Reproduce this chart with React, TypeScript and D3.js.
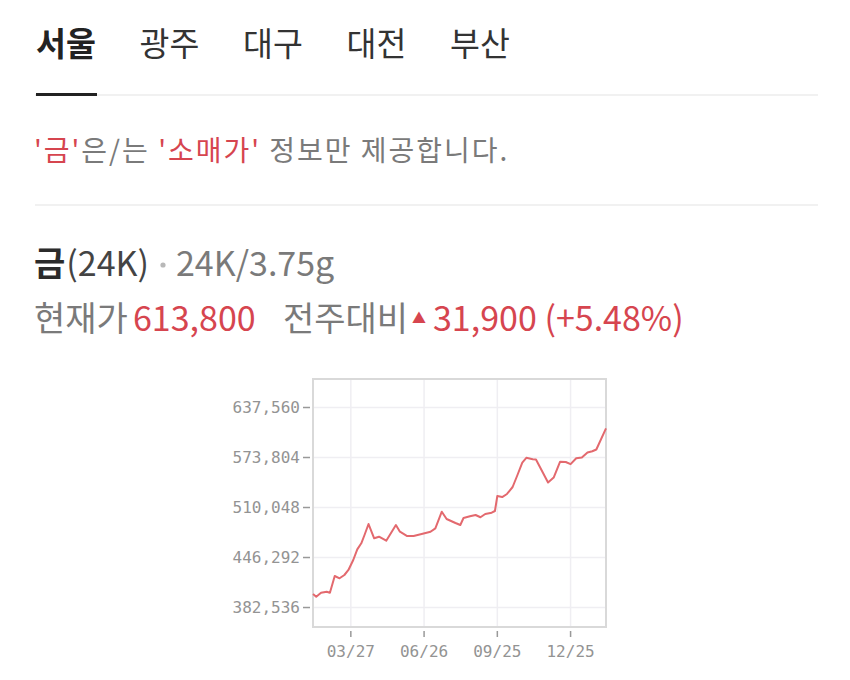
import React from "react";
import * as d3 from "d3";

const tabs = ["서울", "광주", "대구", "대전", "부산"];

const dates = [
  "2024-02-09", "2024-02-13", "2024-02-19", "2024-02-26", "2024-03-01", "2024-03-07",
  "2024-03-13", "2024-03-19", "2024-03-24", "2024-03-30", "2024-04-04", "2024-04-09",
  "2024-04-13", "2024-04-18", "2024-04-25", "2024-05-01", "2024-05-10", "2024-05-22",
  "2024-05-27", "2024-06-05", "2024-06-13", "2024-06-23", "2024-07-04", "2024-07-10",
  "2024-07-18", "2024-07-24", "2024-08-04", "2024-08-10", "2024-08-14", "2024-08-22",
  "2024-08-29", "2024-09-04", "2024-09-10", "2024-09-18", "2024-09-22", "2024-09-25",
  "2024-10-01", "2024-10-07", "2024-10-14", "2024-10-20", "2024-10-26", "2024-10-31",
  "2024-11-08", "2024-11-12", "2024-11-20", "2024-11-27", "2024-12-04", "2024-12-12",
  "2024-12-19", "2024-12-25", "2025-01-01", "2025-01-08", "2025-01-15", "2025-01-21",
  "2025-01-26", "2025-02-07",
];

const prices = [
  399750, 396300, 401400, 402700, 401400, 422700,
  419800, 424000, 430400, 443100, 456700, 464400,
  475000, 489000, 470800, 472800, 467700, 487700,
  479200, 473700, 473700, 476300, 479200, 483500,
  504700, 495400, 490300, 487700, 496700, 498800,
  500500, 497600, 501800, 503400, 505600, 524700,
  523400, 527300, 536200, 551500, 567400, 573400,
  571500, 571300, 555700, 541900, 548300, 568400,
  568100, 565300, 572800, 573800, 580200, 581800,
  584000, 611000,
];

const yTickValues = [382536, 446292, 510048, 573804, 637560];
const xTickDates = ["2024-03-27", "2024-06-26", "2024-09-25", "2024-12-25"];
const yDomain = [357700, 673900];

const RED = "#d6454f";
const GRAY = "#7a7a7a";
const DARK = "#2b2b2b";
const KR = "'Noto Sans CJK KR', 'Noto Sans', sans-serif";
const MONO = "'DejaVu Sans Mono', 'Liberation Mono', monospace";

export default function App() {
  const parse = d3.timeParse("%Y-%m-%d");
  const data = dates.map((d, i) => ({ date: parse(d) as Date, value: prices[i] }));
  const plot = { left: 313, right: 606, top: 379, bottom: 627 };

  const x = d3
    .scaleTime()
    .domain(d3.extent(data, (d) => d.date) as [Date, Date])
    .range([plot.left, plot.right]);
  const y = d3.scaleLinear().domain(yDomain).range([plot.bottom, plot.top]);

  const line = d3
    .line<{ date: Date; value: number }>()
    .x((d) => x(d.date))
    .y((d) => y(d.value));

  const fmtY = d3.format(",");
  const fmtX = d3.timeFormat("%m/%d");
  const xTicks = xTickDates.map((d) => parse(d) as Date);

  return (
    <svg
      width={850}
      height={680}
      style={{ position: "absolute", left: 0, top: 0, background: "#fff" }}
      fontFamily={KR}
    >
      <rect width={850} height={680} fill="#fff" />
      {/* tabs */}
      {tabs.map((t, i) => (
        <text
          key={t}
          x={36 + i * 103.5}
          y={56}
          fontSize={32.5}
          fontWeight={i === 0 ? 700 : 400}
          fill={i === 0 ? "#222" : "#333"}
        >
          {t}
        </text>
      ))}
      <line x1={35} x2={818} y1={95} y2={95} stroke="#ececec" strokeWidth={1.5} />
      <rect x={36} y={93} width={61} height={3} fill="#222" />

      {/* notice */}
      <text x={34} y={161} fontSize={28} fill={GRAY} letterSpacing={2}>
        <tspan fill={RED}>'금'</tspan>
        <tspan>은/는 </tspan>
        <tspan fill={RED}>'소매가'</tspan>
        <tspan> 정보만 제공합니다.</tspan>
      </text>
      <line x1={35} x2={818} y1={205} y2={205} stroke="#ececec" strokeWidth={1.5} />

      {/* title */}
      <text y={276} fontSize={34} fill={DARK}>
        <tspan x={34} fontWeight={700}>금</tspan>
        <tspan fill="#444" dx={1}>(24K)</tspan>
        <tspan x={176} fill={GRAY}>24K/3.75g</tspan>
      </text>
      <circle cx={163} cy={265} r={2.6} fill="#b8b8b8" />

      <text y={331} fontSize={34} fill={GRAY}>
        <tspan x={34}>현재가</tspan>
        <tspan x={133} fill={RED}>613,800</tspan>
        <tspan x={283}>전주대비</tspan>
        <tspan x={412} fill={RED} fontSize={14} dy={-8}>▲</tspan>
        <tspan x={433} fill={RED} dy={8}>31,900 (+5.48%)</tspan>
      </text>

      {/* chart grid */}
      {yTickValues.map((v) => (
        <line
          key={"gy" + v}
          x1={plot.left}
          x2={plot.right}
          y1={y(v)}
          y2={y(v)}
          stroke="#efeef2"
          strokeWidth={1.5}
        />
      ))}
      {xTicks.map((d, i) => (
        <line
          key={"gx" + i}
          x1={x(d)}
          x2={x(d)}
          y1={plot.top}
          y2={plot.bottom}
          stroke="#efeef2"
          strokeWidth={1.5}
        />
      ))}
      <rect
        x={plot.left}
        y={plot.top}
        width={plot.right - plot.left}
        height={plot.bottom - plot.top}
        fill="none"
        stroke="#d9d9d9"
        strokeWidth={2}
      />

      {/* y axis */}
      {yTickValues.map((v) => (
        <g key={"ty" + v}>
          <line x1={303} x2={310} y1={y(v)} y2={y(v)} stroke="#999" strokeWidth={1.5} />
          <text
            x={300}
            y={y(v)}
            dy="0.36em"
            textAnchor="end"
            fontFamily={MONO}
            fontSize={16}
            fill="#939393"
          >
            {fmtY(v)}
          </text>
        </g>
      ))}

      {/* x axis */}
      {xTicks.map((d, i) => (
        <g key={"tx" + i}>
          <line x1={x(d)} x2={x(d)} y1={631} y2={637} stroke="#999" strokeWidth={1.5} />
          <text
            x={x(d)}
            y={657}
            textAnchor="middle"
            fontFamily={MONO}
            fontSize={16}
            fill="#939393"
          >
            {fmtX(d)}
          </text>
        </g>
      ))}

      <path
        d={line(data) || ""}
        fill="none"
        stroke="#e3696e"
        strokeWidth={2}
        strokeLinejoin="round"
      />
    </svg>
  );
}
